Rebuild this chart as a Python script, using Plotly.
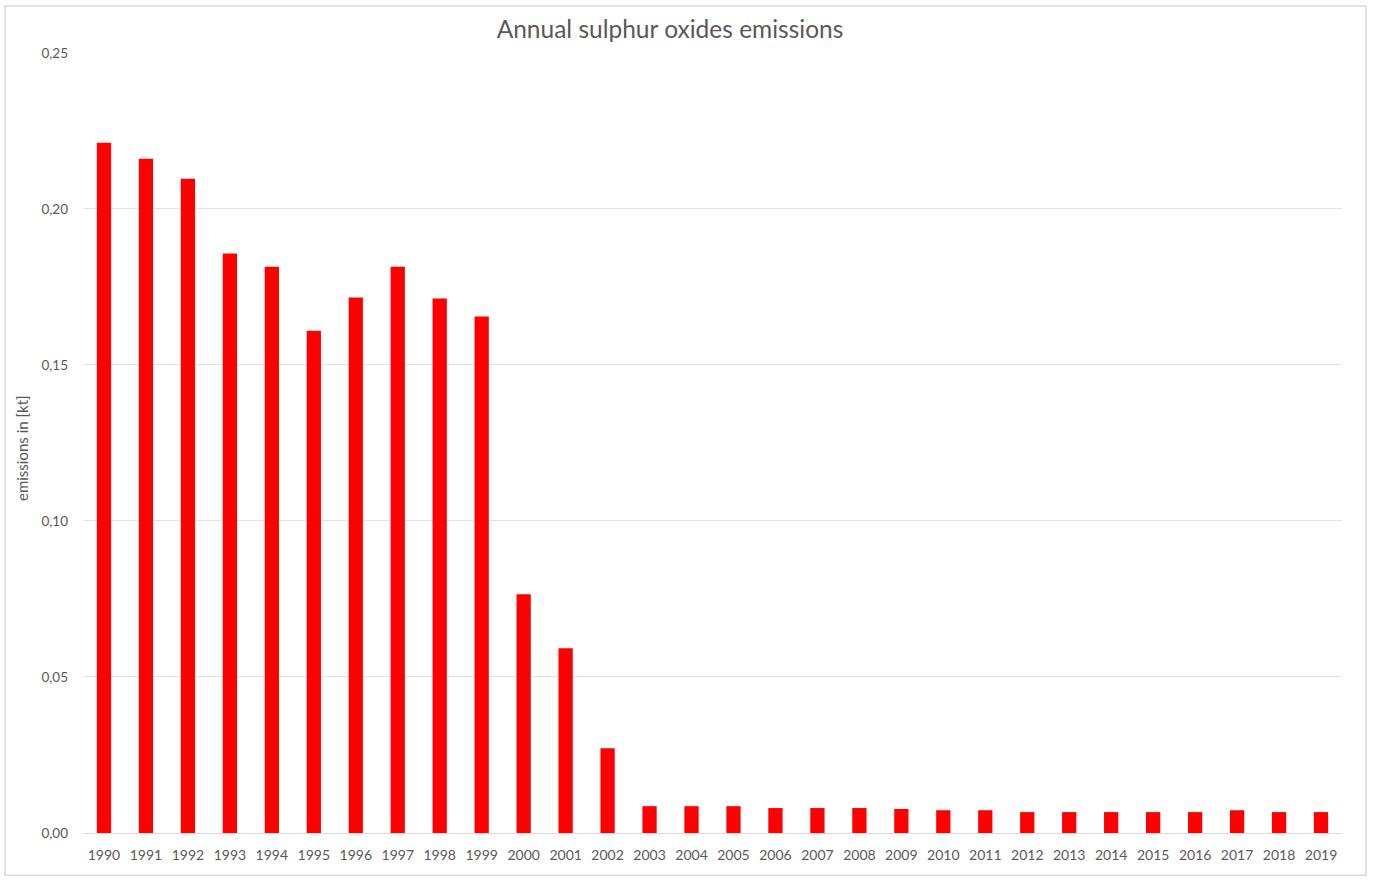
import plotly.graph_objects as go

years = [str(y) for y in range(1990, 2020)]
emissions = [0.2212, 0.2161, 0.2097, 0.1857, 0.1815, 0.1610, 0.1716, 0.1815, 0.1713, 0.1655,
             0.0765, 0.0592, 0.0272, 0.0086, 0.0086, 0.0086, 0.0080, 0.0080, 0.0080, 0.0077,
             0.0073, 0.0073, 0.0067, 0.0067, 0.0067, 0.0067, 0.0067, 0.0073, 0.0067, 0.0067]
y_ticks = [0, 0.05, 0.10, 0.15, 0.20, 0.25]

fig = go.Figure(go.Bar(x=years, y=emissions, marker=dict(color="#ff0000", line=dict(width=0))))

fig.update_layout(
    width=1373, height=881,
    margin=dict(l=83, r=31, t=52, b=48),
    paper_bgcolor="white", plot_bgcolor="white",
    separators=",.",
    font=dict(family="Lato, Open Sans, sans-serif", color="#595959", size=14),
    title=dict(text="Annual sulphur oxides emissions", x=0.488, xref="container", xanchor="center",
               y=1 - 29 / 881, yanchor="middle", font=dict(size=24.5, color="#595959")),
    bargap=0.66,
    showlegend=False,
    xaxis=dict(type="category", showgrid=False, showline=True, linecolor="#d9d9d9", linewidth=1,
               automargin=False, ticks="", ticklabelstandoff=9, tickfont=dict(size=14, color="#595959")),
    yaxis=dict(range=[0, 0.2503], tickvals=y_ticks, tickformat=".2f", showgrid=True, gridcolor="#e3e3e3",
               gridwidth=1, zeroline=False, showline=False, ticks="", ticklen=0, ticklabelstandoff=14,
               automargin=False, tickfont=dict(size=13.5, color="#595959")),
    annotations=[dict(text="emissions in [kt]", xref="paper", yref="paper",
                      x=(22 - 83) / 1259, y=(833 - 448) / 781, xanchor="center", yanchor="middle",
                      textangle=-90, showarrow=False, font=dict(size=15, color="#595959"))],
    shapes=[dict(type="rect", xref="paper", yref="paper", x0=-0.062, x1=1.019, y0=-0.054, y1=1.059,
                 line=dict(color="#d9d9d9", width=1.5), fillcolor="rgba(0,0,0,0)", layer="below")],
)

fig.write_html("out.html", config={"displayModeBar": False},
               post_script="document.body.style.margin='0px';")
